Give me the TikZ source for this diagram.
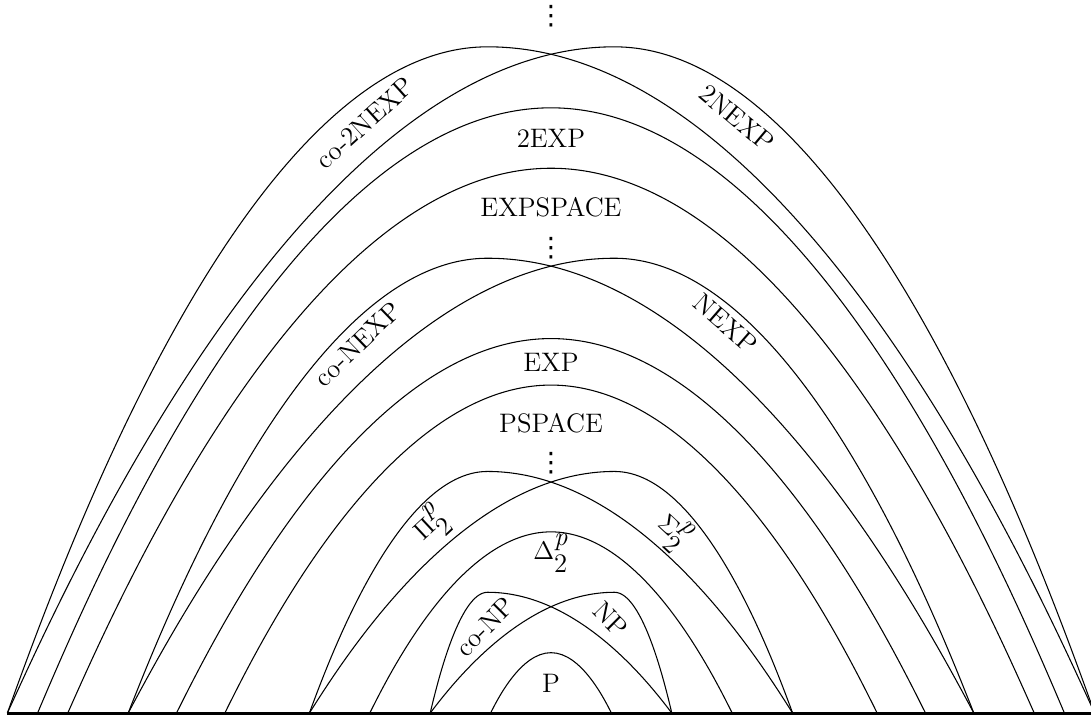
\documentclass[tikz,border=0pt]{standalone}
\usepackage{fontspec}
\usepackage{tikz}

\newfontfamily\dotfont{DejaVu Sans}
\newcommand{\lvl}[1]{$#1^{\mbox{\fontsize{12.6}{13}\selectfont\itshape p}}_{\mbox{\fontsize{12.6}{13}\selectfont 2}}$}

\begin{document}
\begin{tikzpicture}[
    font=\fontsize{12.6}{14}\selectfont,
    line width=0.5pt,
    cls/.style={inner sep=1pt},
    more/.style={inner sep=0pt, font=\dotfont\fontsize{12.6}{14}\selectfont},
    ground/.style={line width=1.4pt}
]
\useasboundingbox (-9.122,-0.033) rectangle (8.940,11.805);

% classes closed under complement
\foreach \w/\h in {1/1, 3/3, 5.4/5.43, 6.2/6.2, 8/9.02, 8.5/10.02}
    \draw (-\w,0) parabola bend (0,\h) (\w,0);

% a class and its complement
\foreach \w/\h in {2/2, 4/4, 7/7.53, 9/11.03} {
    \draw (-\w,0) parabola bend (-1.05,\h) (\w,0);
    \draw (-\w,0) parabola bend (1.05,\h) (\w,0);
}

\draw[ground] (-9,0) -- (9.2,0);

\node[cls] (p) at (0,0.5) {P};
\node[cls, rotate=45] (conp) at (-1.09,1.43) {co-NP};
\node[cls, rotate=-45] (np) at (0.99,1.55) {NP};
\node[cls] (delta) at (0,2.65) {\lvl{\Delta}};
\node[cls, rotate=43] (pi) at (-1.99,3.11) {\lvl{\Pi}};
\node[cls, rotate=-43] (sigma) at (2.02,3.01) {\lvl{\Sigma}};
\node[more] (dotsa) at (0,4.13) {⋮};
\node[cls] (pspace) at (0,4.80) {PSPACE};
\node[cls] (exp) at (0,5.80) {EXP};
\node[cls, rotate=44] (conexp) at (-3.20,6.11) {co-NEXP};
\node[cls, rotate=-41] (nexp) at (2.89,6.45) {NEXP};
\node[more] (dotsb) at (0,7.70) {⋮};
\node[cls] (expspace) at (0,8.38) {EXPSPACE};
\node[cls] (exp2) at (0,9.51) {2EXP};
\node[cls, rotate=42] (conexp2) at (-3.08,9.77) {co-2NEXP};
\node[cls, rotate=-40] (nexp2) at (3.08,9.85) {2NEXP};
\node[more] (dotsc) at (0,11.53) {⋮};
\end{tikzpicture}
\end{document}
